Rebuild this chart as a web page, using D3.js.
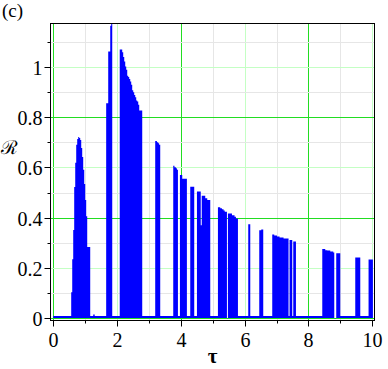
<!DOCTYPE html>
<html lang="en">
<head>
    <meta charset="UTF-8">
    <title>R vs tau</title>
    <script src="https://d3js.org/d3.v7.min.js"></script>
    <style>
        body { margin: 0; background: #fff; }
    </style>
</head>
<body>
    <svg id="chart" width="388" height="369"></svg>

    <script>
        // step data: R holds value rSteps[i] from tauSteps[i] until tauSteps[i+1]
        const tauSteps = [
            0, 0.564, 0.596, 0.627, 0.658, 0.690, 0.721, 0.752, 0.784, 0.815, 0.846, 0.878, 0.909, 0.940, 0.972, 1.003, 1.034, 1.066, 1.160,
            1.254, 1.300,
            1.660, 1.724, 1.787, 1.818, 1.850,
            2.085, 2.163, 2.194, 2.226, 2.257, 2.288, 2.320, 2.351, 2.382, 2.414, 2.445, 2.476, 2.508, 2.539, 2.571, 2.602, 2.633, 2.665, 2.696, 2.790,
            3.197, 3.250, 3.290, 3.320, 3.354,
            3.762, 3.800, 3.846, 3.878, 3.909,
            3.972, 4.044, 4.190,
            4.295, 4.420,
            4.505, 4.624, 4.655, 4.765, 4.828, 4.922,
            5.163, 5.235, 5.288, 5.339, 5.376, 5.445, 5.476, 5.602, 5.683, 5.727, 5.790,
            6.113, 6.176,
            6.458, 6.520, 6.583,
            6.865, 6.928, 7.013, 7.094, 7.219, 7.376, 7.408, 7.492, 7.524, 7.608,
            8.433, 8.527, 8.589, 8.683, 8.777, 8.809, 8.871, 8.997,
            9.467, 9.624,
            9.884, 10.02
        ];
        const rSteps = [
            0.009, 0.104, 0.235, 0.351, 0.522, 0.618, 0.690, 0.713, 0.721, 0.717, 0.709, 0.677, 0.641, 0.590, 0.534, 0.470, 0.406, 0.283, 0.009,
            0.015, 0.009,
            0.855, 1.060, 1.163, 1.170, 0.009,
            1.068, 1.057, 1.039, 1.021, 1.001, 0.988, 0.964, 0.959, 0.951, 0.941, 0.928, 0.906, 0.898, 0.888, 0.879, 0.866, 0.862, 0.849, 0.826, 0.009,
            0.705, 0.700, 0.696, 0.690, 0.009,
            0.606, 0.600, 0.596, 0.590, 0.009,
            0.570, 0.555, 0.009,
            0.523, 0.009,
            0.504, 0.370, 0.487, 0.477, 0.470, 0.009,
            0.441, 0.437, 0.433, 0.428, 0.424, 0, 0.417, 0.410, 0.404, 0.397, 0.009,
            0.374, 0.009,
            0.350, 0.353, 0.009,
            0.333, 0.329, 0.325, 0.321, 0.317, 0.009, 0.311, 0.009, 0.305, 0.009,
            0.275, 0.271, 0.270, 0.266, 0.262, 0, 0.259, 0.009,
            0.242, 0.009,
            0.234, 0.234
        ];
        const data = tauSteps.map((t, i) => ({ tau: t, r: rSteps[i] }));

        const xTicks = [0, 2, 4, 6, 8, 10];
        const xMinor = [1, 3, 5, 7, 9];
        const yTicks = [0, 0.2, 0.4, 0.6, 0.8, 1];
        const yMinor = [0.1, 0.3, 0.5, 0.7, 0.9, 1.1];

        const serif = "'Liberation Serif', 'Times New Roman', serif";
        const svg = d3.select("#chart");
        const pLeft = 50.5, pRight = 374.5, pTop = 23.5, pBottom = 320.5;

        const x = d3.scaleLinear().domain([-0.085, 10.07]).range([pLeft, pRight]);
        const y = d3.scaleLinear().domain([-0.0087, 1.1717]).range([pBottom, pTop]);

        // grid lines, alternating colours like the original
        function gridColor(k) {
            if (k % 4 === 0) return "#22dd22";
            if (k % 2 === 0) return "#c4ffc4";
            return "#e6e6e6";
        }
        const gx = d3.range(0, 11);
        const gy = d3.range(0, 12);
        const grid = svg.append("g");
        // draw grey first, then greens on top
        const order = k => (k % 2 !== 0 ? 0 : (k % 4 === 0 ? 2 : 1));
        gx.slice().sort((a, b) => order(a) - order(b)).forEach(k => {
            grid.append("line")
                .attr("x1", Math.round(x(k)) + 0.5).attr("x2", Math.round(x(k)) + 0.5)
                .attr("y1", pTop).attr("y2", pBottom)
                .attr("stroke", gridColor(k)).attr("stroke-width", 1);
        });
        gy.slice().sort((a, b) => order(a) - order(b)).forEach(k => {
            grid.append("line")
                .attr("x1", pLeft).attr("x2", pRight)
                .attr("y1", Math.round(y(k / 10)) + 0.5).attr("y2", Math.round(y(k / 10)) + 0.5)
                .attr("stroke", gridColor(k)).attr("stroke-width", 1);
        });

        // the blue curve, drawn as a filled step area
        const area = d3.area()
            .curve(d3.curveStepAfter)
            .x(d => x(d.tau))
            .y0(y(0.0012))
            .y1(d => y(d.r));

        svg.append("path")
            .datum(data)
            .attr("d", area)
            .attr("fill", "#0000ff");

        // frame
        svg.append("rect")
            .attr("x", pLeft).attr("y", pTop)
            .attr("width", pRight - pLeft).attr("height", pBottom - pTop)
            .attr("fill", "none").attr("stroke", "#000").attr("stroke-width", 1);

        // x axis ticks
        const xAxis = svg.append("g");
        xTicks.forEach(t => {
            const px = Math.round(x(t)) + 0.5;
            xAxis.append("line").attr("x1", px).attr("x2", px)
                .attr("y1", pBottom).attr("y2", pBottom + 6).attr("stroke", "#000");
            xAxis.append("text")
                .attr("x", px).attr("y", pBottom + 26.5)
                .attr("text-anchor", "middle")
                .style("font-family", serif).style("font-size", "20px")
                .text(t);
        });
        xMinor.forEach(t => {
            const px = Math.round(x(t)) + 0.5;
            xAxis.append("line").attr("x1", px).attr("x2", px)
                .attr("y1", pBottom).attr("y2", pBottom + 3).attr("stroke", "#000");
        });

        // y axis ticks
        const yAxis = svg.append("g");
        yTicks.forEach(t => {
            const py = Math.round(y(t)) + 0.5;
            yAxis.append("line").attr("x1", pLeft - 6).attr("x2", pLeft)
                .attr("y1", py).attr("y2", py).attr("stroke", "#000");
            yAxis.append("text")
                .attr("x", pLeft - 8).attr("y", py + 7)
                .attr("text-anchor", "end")
                .style("font-family", serif).style("font-size", "20px")
                .text(d3.format("~g")(t));
        });
        yMinor.forEach(t => {
            const py = Math.round(y(t)) + 0.5;
            yAxis.append("line").attr("x1", pLeft - 3).attr("x2", pLeft)
                .attr("y1", py).attr("y2", py).attr("stroke", "#000");
        });

        // axis titles
        svg.append("text")
            .attr("x", (pLeft + pRight) / 2).attr("y", 363)
            .attr("text-anchor", "middle")
            .style("font-family", serif)
            .style("font-size", "21px").style("font-weight", "bold")
            .text("τ");

        svg.append("text")
            .attr("x", 9).attr("y", 154)
            .attr("text-anchor", "middle")
            .style("font-family", "'DejaVu Serif', serif")
            .style("font-size", "19px")
            .text("ℛ");

        svg.append("text")
            .attr("x", 2).attr("y", 17)
            .style("font-family", serif)
            .style("font-size", "19px")
            .text("(c)");
    </script>
</body>
</html>
